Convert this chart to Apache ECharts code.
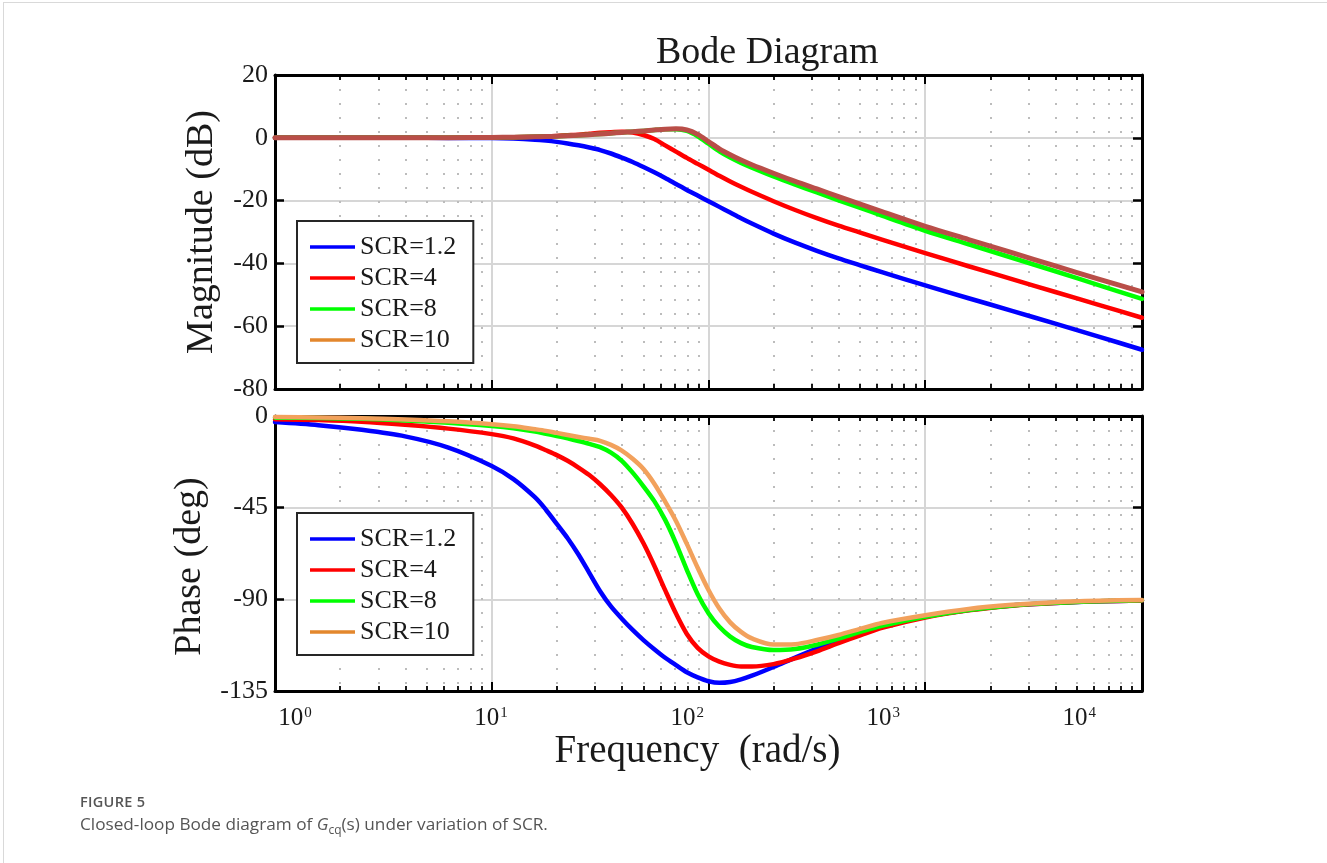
<!DOCTYPE html>
<html>
<head>
<meta charset="utf-8">
<title>Bode Diagram</title>
<script src="https://cdn.jsdelivr.net/npm/echarts@6/dist/echarts.min.js"></script>
<style>
	html, body { margin: 0; padding: 0; background: #fff; }
	#page { position: relative; width: 1327px; height: 863px; overflow: hidden; }
	#frame { position: absolute; left: 3px; top: 2px; width: 1400px; height: 900px;
		border-left: 1px solid #d9d9d9; border-top: 1px solid #d9d9d9; }
	#chart { position: absolute; left: 0; top: 0; width: 1327px; height: 863px; }
	#caption { position: absolute; left: 80px; top: 792px; font-family: "Open Sans", sans-serif; color: #555; }
	#caption .fig { font-size: 14.5px; font-weight: 600; letter-spacing: 0.3px; }
	#caption .txt { font-size: 17.2px; margin-top: 1px; }
	#caption sub { font-size: 12px; }
</style>
</head>
<body>
<div id="page">
	<div id="frame"></div>
	<div id="chart"></div>
	<div id="caption">
		<div class="fig">FIGURE 5</div>
		<div class="txt">Closed-loop Bode diagram of <i>G</i><sub>cq</sub>(s) under variation of SCR.</div>
	</div>
</div>
<script>
	var FONT = '"Liberation Serif", "DejaVu Serif", serif';

	var seriesNames = ['SCR=1.2', 'SCR=4', 'SCR=8', 'SCR=10'];
	var magColors = ['#0000ff', '#ff0000', '#00ff00', '#b94e48'];
	var phaseColors = ['#0000ff', '#ff0000', '#00ff00', '#f2a15c'];
	var legendColors = ['#0000ff', '#ff0000', '#00ff00', '#e3872d'];

	// frequencies (rad/s) at which the curves were read
	var freq = [1, 1.585, 2.512, 3.981, 6.31, 10, 12.59, 15.85, 17.78, 19.95,
		22.39, 25.12, 28.18, 31.62, 35.48, 39.81, 44.67, 50.12, 56.23, 63.1,
		70.79, 79.43, 89.13, 100, 112.2, 125.9, 141.3, 158.5, 199.5, 251.2,
		316.2, 398.1, 501.2, 631, 1000, 1585, 2512, 3981, 6310, 10000];

	// magnitude (dB)
	var magSCR12 = [0, 0, 0, 0, -0.03, -0.1, -0.25, -0.6, -0.9, -1.3,
		-1.8, -2.4, -3.1, -3.9, -5.0, -6.3, -7.7, -9.3, -11.0, -12.8,
		-14.7, -16.6, -18.4, -20.2, -22.0, -23.8, -25.6, -27.3, -30.5, -33.4,
		-36.0, -38.4, -40.6, -42.8, -47.0, -51.1, -55.1, -59.2, -63.3, -67.5];
	var magSCR4 = [0, 0, 0, 0.02, 0.05, 0.12, 0.2, 0.35, 0.45, 0.6,
		0.8, 1.0, 1.3, 1.6, 1.8, 1.9, 1.7, 0.9, -0.4, -2.4,
		-4.4, -6.4, -8.3, -10.2, -12.1, -13.9, -15.6, -17.2, -20.2, -23.0,
		-25.6, -28.0, -30.2, -32.4, -36.7, -40.9, -45.0, -49.1, -53.2, -57.3];
	var magSCR8 = [0, 0, 0, 0.02, 0.05, 0.12, 0.18, 0.3, 0.4, 0.5,
		0.65, 0.8, 1.0, 1.2, 1.45, 1.7, 1.95, 2.2, 2.45, 2.7,
		2.75, 2.2, 0.5, -1.9, -4.3, -6.3, -8.0, -9.5, -12.3, -14.9,
		-17.4, -19.9, -22.3, -24.8, -29.6, -33.9, -38.2, -42.5, -46.9, -51.3];
	var magSCR10 = [0, 0, 0, 0.02, 0.05, 0.12, 0.18, 0.3, 0.4, 0.5,
		0.65, 0.8, 1.0, 1.2, 1.45, 1.7, 1.95, 2.2, 2.5, 2.75,
		2.85, 2.5, 1.1, -1.2, -3.5, -5.4, -7.1, -8.6, -11.3, -13.9,
		-16.3, -18.7, -21.1, -23.5, -28.2, -32.4, -36.6, -40.8, -45.0, -49.1];

	// phase (deg)
	var phaseSCR12 = [-3, -4.5, -6.8, -10, -15.5, -24.5, -31, -40, -46, -53,
		-60, -68, -77, -86, -93.5, -99.5, -105, -110, -114.5, -118.7,
		-122.3, -125.8, -128.3, -130.2, -131, -130.6, -129.3, -127.5, -123.2, -118.6,
		-114.2, -110.2, -106.8, -103.6, -98.6, -95.2, -93, -91.8, -91, -90.6];
	var phaseSCR4 = [-1.6, -2.0, -2.8, -4.3, -6.2, -8.9, -11, -14.5, -16.8, -19.2,
		-22, -25.3, -29, -33.5, -38.8, -45, -53, -62.5, -73.5, -85.5,
		-97, -107, -113.8, -118, -120.6, -122.2, -123, -123, -121.8, -119,
		-115.5, -111.5, -107.7, -104, -98.9, -95.4, -93.1, -91.8, -91, -90.6];
	var phaseSCR8 = [-0.8, -1.0, -1.4, -2.2, -3.3, -4.9, -6, -7.6, -8.7, -9.8,
		-11, -12.3, -13.7, -15.3, -18, -22, -27.8, -34.5, -41.8, -51,
		-62.5, -75.5, -87.5, -96.8, -103.5, -108.3, -111.5, -113.4, -114.9, -114.4,
		-112.3, -109.3, -106, -103, -98.6, -95.3, -93, -91.7, -90.9, -90.5];
	var phaseSCR10 = [-0.5, -0.7, -1.1, -1.7, -2.6, -4.0, -5, -6.5, -7.3, -8.3,
		-9.3, -10.3, -11.2, -12.2, -14.2, -17, -21, -26, -33.2, -42,
		-51.5, -62.8, -74.5, -85.4, -94.5, -101.3, -106, -109.2, -112.2, -112,
		-110, -107.5, -104.5, -101.6, -97.8, -94.7, -92.7, -91.4, -90.7, -90.3];

	var magValues = [magSCR12, magSCR4, magSCR8, magSCR10];
	var phaseValues = [phaseSCR12, phaseSCR4, phaseSCR8, phaseSCR10];
	var decadeLabels = [0, 1, 2, 3, 4];

	function pairs(xs, ys){
		return xs.map(function(x, i){ return [x, ys[i]]; });
	}

	// minor tick positions (log10 units) for the dotted grid
	var minorTicks = [];
	for (var d = 0; d < 4; d++) {
		for (var k = 2; k <= 9; k++) minorTicks.push(d + Math.log10(k));
	}

	var boxLine = { onZero: false, lineStyle: { color: '#000', width: 3 } };
	var majorTick = { inside: true, length: 9, lineStyle: { color: '#000', width: 2 } };
	var minorTick = { inside: true, length: 5, customValues: minorTicks, lineStyle: { color: '#000', width: 1.8 } };

	function xAxesFor(g){
		return [
			{ type: 'log', gridIndex: g, min: 1, max: 10000, logBase: 10, position: 'bottom',
				axisLine: boxLine, axisTick: majorTick, axisLabel: { show: false },
				splitLine: { show: true, lineStyle: { color: '#d6d6d6', width: 2 } } },
			{ type: 'value', gridIndex: g, min: 0, max: 4, position: 'bottom',
				axisLine: { show: false, onZero: false }, axisTick: minorTick, axisLabel: { show: false },
				splitLine: { show: true, lineStyle: { color: '#bcbcbc', width: 2, type: [2, 12] } } },
			{ type: 'log', gridIndex: g, min: 1, max: 10000, logBase: 10, position: 'top',
				axisLine: boxLine, axisTick: majorTick, axisLabel: { show: false }, splitLine: { show: false } },
			{ type: 'value', gridIndex: g, min: 0, max: 4, position: 'top',
				axisLine: { show: false, onZero: false }, axisTick: minorTick, axisLabel: { show: false },
				splitLine: { show: false } }
		];
	}

	function yAxesFor(g, min, max, interval, name, namePad){
		return [
			{ type: 'value', gridIndex: g, min: min, max: max, interval: interval, position: 'left',
				axisLine: boxLine, axisTick: { inside: true, length: 9, lineStyle: { color: '#000', width: 2.5 } },
				axisLabel: { fontFamily: FONT, fontSize: 26, color: '#1a1a1a', margin: 7 },
				splitLine: { show: true, lineStyle: { color: '#d6d6d6', width: 2 } },
				name: name, nameLocation: 'middle', nameGap: 54,
				nameTextStyle: { fontFamily: FONT, fontSize: 38, color: '#1a1a1a', padding: namePad } },
			{ type: 'value', gridIndex: g, min: min, max: max, interval: interval, position: 'right',
				axisLine: boxLine, axisTick: { inside: true, length: 9, lineStyle: { color: '#000', width: 2.5 } },
				axisLabel: { show: false }, splitLine: { show: false } }
		];
	}

	var xAxes = xAxesFor(0).concat(xAxesFor(1));
	// tick labels of the frequency axis, placed as in the picture
	xAxes.push({
		type: 'value', gridIndex: 1, min: -0.102, max: 4.32, position: 'bottom',
		axisLine: { show: false, onZero: false }, axisTick: { show: false }, splitLine: { show: false },
		axisLabel: {
			customValues: decadeLabels, margin: 15,
			formatter: function(v){ return '{b|10}{s|' + v + '}'; },
			rich: {
				b: { fontFamily: FONT, fontSize: 25, color: '#1a1a1a' },
				s: { fontFamily: FONT, fontSize: 15, color: '#1a1a1a', verticalAlign: 'top', padding: [0, 0, 0, 1] }
			}
		},
		name: 'Frequency  (rad/s)', nameLocation: 'middle', nameGap: 38,
		nameTextStyle: { fontFamily: FONT, fontSize: 39, color: '#1a1a1a', padding: [0, 22, 0, 0] }
	});

	var yAxes = yAxesFor(0, -80, 20, 20, 'Magnitude (dB)', [0, 0, 0, 0])
		.concat(yAxesFor(1, -135, 0, 45, 'Phase (deg)', [0, 26, 0, 0]));

	var series = [];
	seriesNames.forEach(function(n, i){
		series.push({
			type: 'line', name: n, xAxisIndex: 0, yAxisIndex: 0,
			data: pairs(freq, magValues[i]),
			symbol: 'none', smooth: 0.3,
			lineStyle: { color: magColors[i], width: i === 3 ? 5 : 4.5, cap: 'round', join: 'round' },
			itemStyle: { color: magColors[i] }
		});
	});
	seriesNames.forEach(function(n, i){
		series.push({
			type: 'line', name: n, xAxisIndex: 4, yAxisIndex: 2,
			data: pairs(freq, phaseValues[i]),
			symbol: 'none', smooth: 0.3,
			lineStyle: { color: phaseColors[i], width: 4.5, cap: 'round', join: 'round' },
			itemStyle: { color: phaseColors[i] }
		});
	});

	function legendAt(top){
		return {
			orient: 'vertical', left: 297, top: top,
			data: seriesNames.map(function(n, i){
				return { name: n, icon: 'rect', itemStyle: { color: legendColors[i] } };
			}),
			itemWidth: 45, itemHeight: 3.5, itemGap: 5,
			padding: [13, 17, 10, 13],
			borderColor: '#262626', borderWidth: 2, backgroundColor: '#fff',
			selectedMode: false,
			textStyle: { fontFamily: FONT, fontSize: 26, lineHeight: 26, color: '#1a1a1a' }
		};
	}

	var chart = echarts.init(document.getElementById('chart'));
	chart.setOption({
		animation: false,
		backgroundColor: 'transparent',
		title: {
			text: 'Bode Diagram', left: 651, top: 29,
			textStyle: { fontFamily: FONT, fontSize: 38, fontWeight: 'normal', color: '#1a1a1a' }
		},
		grid: [
			{ left: 275, top: 75, width: 867, height: 314 },
			{ left: 275, top: 416, width: 867, height: 275 }
		],
		legend: [legendAt(221), legendAt(513)],
		xAxis: xAxes,
		yAxis: yAxes,
		series: series
	});
</script>
</body>
</html>
